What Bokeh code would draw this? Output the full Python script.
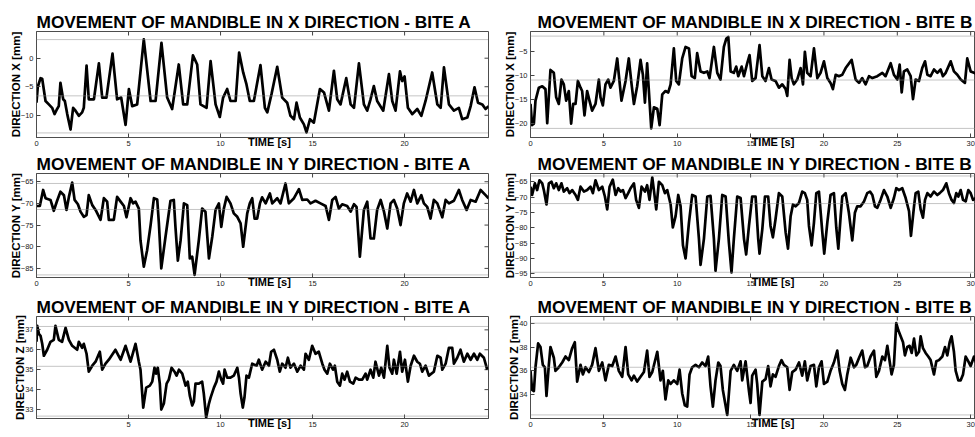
from bokeh.plotting import figure
from bokeh.models import Range1d, FixedTicker, Span, LinearAxis, CustomJSTickFormatter
from bokeh.layouts import column, row
from bokeh.embed import file_html
from bokeh.resources import INLINE

# ---------------- data ----------------
t_xa = [0.00,0.07,0.22,0.31,0.49,0.67,0.85,0.98,1.12,1.21,1.30,1.45,1.54,1.67,1.85,1.99,2.12,2.30,2.48,2.57,
        2.72,2.84,3.12,3.39,3.57,3.80,4.13,4.38,4.60,4.84,5.02,5.20,5.47,5.83,6.20,6.47,6.79,7.10,7.37,7.73,
        7.97,8.19,8.50,8.73,8.91,9.24,9.46,9.73,9.96,10.14,10.36,10.54,10.82,11.01,11.23,11.41,11.59,11.81,12.17,12.41,
        12.54,12.77,13.08,13.35,13.62,13.80,13.99,14.13,14.31,14.53,14.67,14.86,15.07,15.40,15.62,15.89,16.16,16.34,16.52,16.83,
        17.07,17.25,17.52,17.79,17.97,18.15,18.33,18.51,18.84,19.15,19.33,19.51,19.75,19.87,20.00,20.18,20.42,20.69,20.91,21.14,
        21.50,21.78,21.96,22.14,22.41,22.68,22.95,23.13,23.41,23.59,23.80,23.99,24.22,24.40,24.56]
v_xa = [-7.8,-5.0,-3.5,-3.6,-7.5,-8.1,-8.7,-9.8,-8.9,-8.4,-4.3,-7.2,-7.5,-9.8,-12.5,-8.7,-9.2,-10.1,-9.5,-8.7,
        -1.3,-7.2,-7.2,-0.9,-6.9,-6.9,0.8,-7.2,-6.9,-11.7,-5.4,-8.4,-8.1,3.3,-7.5,-7.5,2.7,-6.9,-8.9,-1.1,
        -8.1,-8.1,0.5,-1.1,-8.1,-8.7,-0.5,-8.1,-10.3,-6.9,-5.4,-7.5,-7.5,1.0,-2.5,-4.6,-7.5,-7.5,-1.2,-8.7,
        -9.5,-6.3,-1.5,-6.9,-7.8,-10.1,-10.7,-7.8,-10.4,-11.6,-13.0,-10.7,-11.3,-5.4,-6.0,-9.2,-2.2,-7.2,-8.1,-3.5,
        -8.1,-8.7,-0.9,-8.1,-9.2,-7.2,-4.9,-7.5,-9.2,-2.8,-7.5,-9.2,-2.3,-4.0,-3.2,-8.7,-9.8,-8.9,-10.1,-7.5,
        -2.5,-8.1,-8.7,-1.6,-8.1,-9.2,-8.7,-10.7,-10.4,-8.4,-5.1,-7.8,-8.1,-8.9,-8.4]

t_ya = [0.00,0.18,0.36,0.49,0.76,0.94,1.12,1.30,1.49,1.63,1.76,1.94,2.07,2.25,2.39,2.57,2.72,2.84,3.03,3.21,
        3.48,3.66,3.84,3.93,4.20,4.38,4.57,4.75,4.89,5.11,5.25,5.38,5.56,5.65,5.83,6.01,6.20,6.38,6.56,6.65,
        6.78,7.01,7.28,7.46,7.55,7.68,7.83,8.01,8.19,8.33,8.46,8.59,8.82,9.00,9.18,9.37,9.55,9.73,9.91,10.04,
        10.18,10.33,10.54,10.72,10.91,11.09,11.23,11.45,11.59,11.72,11.85,11.99,12.14,12.26,12.45,12.68,12.81,13.08,13.26,13.53,
        13.71,13.99,14.26,14.44,14.71,14.89,15.16,15.43,15.71,15.89,16.07,16.25,16.43,16.61,16.88,17.07,17.25,17.39,17.57,17.79,
        17.97,18.15,18.33,18.51,18.70,18.88,19.06,19.24,19.42,19.60,19.78,19.96,20.14,20.33,20.51,20.69,20.91,21.05,21.23,21.41,
        21.59,21.78,22.05,22.23,22.41,22.68,22.95,23.13,23.37,23.59,23.86,24.13,24.40,24.56]
v_ya = [-70.6,-70.6,-66.9,-68.8,-69.2,-71.7,-69.4,-67.3,-68.1,-71.5,-68.5,-65.2,-69.2,-70.2,-71.9,-73.1,-72.7,-68.1,-70.4,-71.5,
        -73.8,-68.8,-69.6,-73.8,-73.8,-68.5,-69.6,-70.6,-73.2,-68.8,-70.0,-69.6,-71.2,-78.5,-84.6,-80.8,-75.0,-68.8,-69.1,-74.6,
        -85.0,-77.7,-69.4,-69.2,-75.4,-83.2,-78.5,-70.0,-70.4,-82.7,-82.3,-86.5,-78.5,-71.2,-71.9,-82.7,-77.7,-71.5,-70.0,-75.4,
        -71.2,-68.5,-70.0,-72.3,-73.1,-74.6,-80.0,-72.3,-70.0,-68.8,-73.5,-73.5,-70.0,-68.6,-70.0,-67.7,-70.0,-68.8,-70.0,-65.4,
        -70.0,-68.8,-66.7,-69.2,-69.1,-70.0,-69.4,-70.0,-70.6,-73.8,-69.2,-68.5,-71.2,-70.2,-70.6,-71.9,-70.2,-70.8,-82.3,-71.5,
        -69.6,-78.1,-78.1,-71.5,-69.2,-71.9,-75.8,-70.0,-69.2,-71.2,-75.0,-70.0,-67.7,-69.6,-66.9,-70.0,-68.1,-70.0,-70.8,-73.5,
        -69.2,-70.0,-73.2,-69.2,-70.0,-69.4,-66.9,-69.2,-71.5,-69.2,-69.6,-66.9,-68.1,-68.8]

t_za = [0.00,0.04,0.13,0.22,0.31,0.40,0.58,0.76,0.94,1.03,1.21,1.39,1.58,1.76,1.94,2.21,2.30,2.48,2.57,2.72,
        2.84,3.03,3.21,3.44,3.57,3.75,3.93,4.29,4.57,4.84,5.11,5.38,5.56,5.65,5.80,5.96,6.16,6.29,6.41,6.50,
        6.59,6.70,6.78,6.92,7.07,7.19,7.34,7.50,7.61,7.74,7.92,8.10,8.22,8.33,8.46,8.55,8.64,8.82,9.00,9.09,
        9.22,9.37,9.46,9.64,9.78,9.91,10.04,10.14,10.22,10.36,10.54,10.72,10.91,11.00,11.09,11.21,11.30,11.41,11.54,11.72,
        11.96,12.08,12.26,12.45,12.63,12.75,12.90,13.08,13.22,13.35,13.53,13.66,13.80,13.99,14.17,14.35,14.53,14.62,14.80,14.98,
        15.16,15.34,15.53,15.65,15.80,15.94,16.11,16.21,16.34,16.49,16.61,16.74,16.88,17.03,17.21,17.34,17.52,17.70,17.88,17.97,
        18.15,18.30,18.42,18.61,18.73,18.88,19.06,19.18,19.33,19.42,19.57,19.75,19.87,20.02,20.18,20.33,20.51,20.69,20.83,20.96,
        21.14,21.32,21.59,21.78,21.96,22.05,22.23,22.41,22.59,22.68,22.86,23.04,23.22,23.41,23.59,23.77,23.95,24.09,24.31,24.49]
v_za = [36.4,37.2,36.8,36.7,36.3,35.7,36.0,36.4,36.5,37.2,36.5,36.4,37.1,36.5,36.2,36.0,36.4,36.1,36.3,35.8,
        34.9,35.2,35.4,35.9,35.0,35.3,35.5,36.0,35.5,36.2,35.4,36.3,35.4,35.0,33.1,34.1,34.2,34.4,35.1,34.8,
        35.1,34.3,33.0,33.3,34.3,34.5,35.1,34.9,34.7,35.0,34.8,34.2,34.4,33.7,33.2,33.4,34.3,34.3,34.4,33.8,
        32.6,33.3,33.6,34.1,34.4,34.9,34.5,34.3,35.0,34.6,34.6,34.7,35.1,34.6,33.8,33.1,33.6,34.7,34.6,35.3,
        35.2,35.5,35.0,35.4,35.2,35.9,36.0,35.5,34.9,35.3,35.1,35.6,35.1,35.3,34.9,35.2,35.0,35.8,35.5,36.2,
        35.8,35.9,35.3,35.0,34.8,35.3,35.0,35.2,34.4,34.2,34.8,34.5,34.9,34.4,34.3,34.6,34.5,34.5,34.8,34.5,
        35.0,34.6,35.4,34.7,35.1,34.6,36.2,35.1,34.8,35.5,34.8,35.9,34.9,35.5,34.4,35.2,35.7,35.4,35.3,34.9,
        35.2,34.7,34.9,35.7,35.6,35.0,35.3,36.1,36.1,35.3,35.6,36.0,35.4,35.8,35.5,35.8,35.5,35.8,35.6,35.0]

t_xb = [0.00,0.11,0.23,0.34,0.57,0.80,1.02,1.14,1.36,1.59,1.75,1.93,2.11,2.27,2.43,2.61,2.77,2.91,3.07,3.23,
        3.41,3.52,3.68,3.86,4.02,4.20,4.43,4.66,4.77,4.93,5.11,5.30,5.45,5.68,5.91,6.02,6.20,6.48,6.70,6.89,
        7.05,7.27,7.50,7.66,7.80,7.95,8.11,8.23,8.41,8.64,8.80,8.98,9.20,9.39,9.55,9.77,9.93,10.11,10.34,10.57,
        10.80,10.98,11.20,11.36,11.59,11.82,12.05,12.20,12.50,12.73,12.95,13.18,13.34,13.48,13.64,13.86,14.02,14.16,14.39,14.55,
        14.77,14.93,15.11,15.34,15.61,15.80,16.02,16.25,16.43,16.70,16.93,17.16,17.39,17.50,17.66,17.80,17.95,18.18,18.41,18.57,
        18.70,18.86,19.09,19.32,19.55,19.77,20.00,20.23,20.45,20.61,20.80,21.02,21.25,21.48,21.89,22.16,22.39,22.61,22.84,23.07,
        23.30,23.64,23.98,24.20,24.55,24.77,25.00,25.16,25.30,25.45,25.68,25.91,26.07,26.25,26.48,26.70,26.89,27.05,27.27,27.50,
        27.73,27.95,28.11,28.30,28.64,28.86,29.09,29.32,29.61,29.77,30.00,30.23,30.40]
v_xb = [-15.9,-20.3,-20.0,-15.2,-12.5,-12.2,-12.8,-19.9,-8.8,-9.4,-14.5,-15.9,-10.8,-11.8,-15.2,-13.2,-20.0,-15.9,-15.9,-11.1,
        -12.5,-13.2,-18.3,-13.2,-15.2,-17.3,-15.9,-10.8,-14.5,-16.2,-11.8,-10.8,-12.5,-11.1,-6.4,-9.8,-15.2,-11.1,-6.4,-11.8,
        -15.9,-12.2,-6.7,-9.8,-15.6,-7.4,-15.2,-21.0,-16.6,-16.9,-20.3,-13.9,-13.2,-13.5,-11.8,-4.3,-11.1,-11.8,-6.4,-4.0,
        -4.3,-10.1,-10.5,-5.3,-9.1,-9.4,-9.1,-10.5,-4.0,-9.4,-10.8,-4.0,-2.3,-1.9,-9.1,-9.4,-8.1,-10.1,-8.1,-10.1,
        -7.4,-5.7,-11.1,-10.5,-3.6,-10.1,-11.1,-8.4,-10.8,-11.1,-12.5,-11.8,-12.8,-14.2,-6.7,-10.5,-11.8,-10.8,-8.4,-11.8,
        -5.0,-9.4,-10.1,-4.3,-10.5,-9.4,-7.0,-10.5,-11.5,-12.8,-9.8,-10.1,-9.8,-8.4,-6.7,-10.8,-11.5,-10.5,-11.8,-10.1,
        -10.5,-10.1,-9.4,-10.1,-7.4,-9.8,-10.8,-7.7,-13.5,-9.1,-8.7,-10.1,-14.9,-10.8,-11.1,-8.4,-7.0,-9.8,-10.1,-8.7,
        -9.4,-8.7,-10.1,-9.4,-7.0,-9.1,-9.8,-10.8,-11.5,-6.4,-9.1,-9.4,-9.6]

t_yb = [0.00,0.11,0.30,0.45,0.61,0.80,0.91,1.09,1.25,1.43,1.59,1.75,1.93,2.11,2.27,2.50,2.66,2.84,3.07,3.23,
        3.41,3.64,3.86,4.09,4.25,4.43,4.66,4.89,5.07,5.23,5.39,5.61,5.80,5.98,6.14,6.30,6.48,6.66,6.82,7.05,
        7.20,7.39,7.57,7.80,7.95,8.11,8.30,8.41,8.57,8.75,8.98,9.16,9.32,9.55,9.70,9.89,10.07,10.23,10.39,10.57,
        10.80,11.02,11.25,11.48,11.59,11.82,12.05,12.27,12.50,12.61,12.84,13.07,13.30,13.52,13.70,13.86,14.09,14.32,14.55,14.70,
        14.89,15.11,15.34,15.52,15.61,15.80,15.98,16.20,16.36,16.52,16.70,16.93,17.16,17.39,17.55,17.73,17.89,18.07,18.30,18.52,
        18.70,18.86,18.98,19.16,19.32,19.48,19.66,19.89,20.02,20.23,20.45,20.68,20.84,20.98,21.14,21.25,21.48,21.70,21.93,22.11,
        22.27,22.50,22.73,22.95,23.14,23.30,23.48,23.64,23.86,24.09,24.32,24.55,24.77,24.93,25.11,25.34,25.57,25.80,25.93,26.14,
        26.25,26.43,26.59,26.75,26.89,27.05,27.27,27.50,27.73,27.89,28.11,28.34,28.52,28.70,28.86,29.02,29.16,29.32,29.48,29.66,
        29.84,30.00,30.16,30.40]
v_yb = [-66.6,-69.3,-65.5,-67.7,-64.5,-65.5,-67.7,-72.4,-65.5,-65.0,-67.1,-65.5,-67.7,-65.5,-68.2,-67.1,-68.7,-67.7,-69.3,-70.9,
        -66.6,-68.2,-67.7,-66.6,-68.7,-64.5,-67.7,-66.6,-69.8,-74.0,-66.6,-64.3,-69.3,-67.1,-68.2,-67.7,-70.3,-68.7,-67.1,-65.5,
        -70.9,-73.5,-66.6,-68.2,-66.1,-70.9,-63.6,-67.7,-74.0,-65.0,-66.1,-68.7,-67.7,-72.4,-79.9,-76.2,-69.3,-73.0,-85.7,-90.0,
        -78.3,-69.3,-69.8,-83.6,-92.1,-83.6,-69.8,-69.6,-83.6,-94.0,-83.6,-69.3,-69.8,-84.7,-94.5,-83.6,-69.8,-70.3,-83.6,-88.7,
        -79.4,-69.8,-69.8,-83.6,-88.4,-80.4,-69.8,-69.8,-79.4,-83.1,-77.2,-68.7,-69.8,-81.5,-86.8,-76.2,-72.4,-73.0,-71.9,-68.2,
        -68.7,-70.9,-79.4,-85.7,-78.3,-68.7,-68.2,-81.5,-88.4,-78.3,-69.3,-68.7,-79.9,-86.8,-76.2,-69.8,-68.7,-75.1,-84.1,-75.1,
        -73.0,-73.0,-71.4,-68.7,-68.2,-69.3,-73.0,-73.5,-70.9,-67.7,-69.8,-73.5,-70.3,-67.1,-67.7,-67.1,-70.3,-74.6,-82.6,-73.0,
        -68.7,-68.2,-74.0,-76.7,-70.9,-68.7,-69.8,-68.2,-69.3,-68.7,-67.7,-65.5,-68.7,-70.9,-71.9,-68.7,-69.8,-67.7,-70.9,-71.4,
        -67.7,-68.7,-70.9,-70.2]

t_zb = [0.00,0.11,0.23,0.34,0.52,0.68,0.84,0.98,1.09,1.25,1.36,1.59,1.70,1.93,2.16,2.39,2.61,2.84,3.02,3.18,
        3.41,3.57,3.75,3.98,4.20,4.43,4.66,4.89,5.11,5.34,5.57,5.80,6.02,6.25,6.48,6.66,6.89,7.05,7.27,7.50,
        7.73,7.95,8.11,8.30,8.64,8.86,9.02,9.20,9.39,9.55,9.77,10.00,10.16,10.34,10.52,10.68,10.84,11.02,11.25,11.48,
        11.70,11.93,12.11,12.27,12.43,12.61,12.80,12.95,13.11,13.41,13.64,13.86,14.09,14.32,14.43,14.66,14.89,15.00,15.11,15.34,
        15.45,15.61,15.80,16.02,16.20,16.36,16.52,16.70,16.93,17.11,17.27,17.50,17.66,17.84,18.07,18.30,18.52,18.70,18.86,19.09,
        19.32,19.48,19.66,19.84,20.00,20.23,20.45,20.68,20.91,21.07,21.25,21.43,21.59,21.82,22.05,22.20,22.43,22.61,22.80,22.95,
        23.18,23.41,23.57,23.75,23.98,24.16,24.32,24.43,24.61,24.77,24.93,25.07,25.23,25.39,25.52,25.68,25.84,25.98,26.14,26.30,
        26.48,26.59,26.75,26.93,27.11,27.27,27.50,27.66,27.84,28.07,28.25,28.41,28.57,28.70,28.86,28.98,29.16,29.32,29.48,29.66,
        29.84,30.00,30.23,30.40]
v_zb = [36.0,34.4,34.3,36.3,38.3,38.0,36.5,36.3,33.9,36.5,38.0,37.1,36.0,36.3,36.7,37.2,36.9,37.9,38.4,35.1,
        36.5,35.7,36.3,35.9,36.5,37.9,36.0,36.7,35.2,36.5,36.4,37.2,36.0,35.5,38.0,35.7,35.2,35.6,35.1,35.5,
        35.9,37.7,35.5,35.9,37.6,35.2,36.0,33.6,35.2,34.9,35.2,34.9,36.1,34.1,33.1,33.0,35.7,36.3,36.5,36.3,
        36.7,36.4,37.2,34.7,33.0,35.2,36.7,36.4,34.4,32.3,36.0,36.5,36.0,36.8,35.2,36.8,34.3,33.3,35.6,36.1,
        34.9,32.3,35.1,35.3,36.4,34.7,35.7,35.5,36.4,36.9,36.5,36.3,34.4,35.9,36.1,36.7,35.6,36.8,35.2,36.4,
        36.5,34.7,36.3,36.8,34.9,35.1,36.0,36.7,37.7,36.0,34.9,34.4,35.7,37.1,36.3,36.5,37.2,37.7,36.3,36.4,
        37.2,37.7,35.5,36.0,37.2,36.9,38.1,37.2,35.7,36.5,40.0,39.4,38.9,38.4,37.3,38.0,38.1,37.5,38.7,37.3,
        37.6,38.9,37.9,37.5,37.2,36.9,35.7,36.8,36.9,37.2,38.0,37.3,38.4,38.9,37.6,36.0,35.2,35.2,35.7,37.2,
        36.8,36.4,37.2,36.6]

# dotted reference levels (max, mean, min)
ref_xa = [3.26, -6.6, -13.1]
ref_ya = [-65.4, -71.4, -86.5]
ref_za = [37.17, 35.17, 32.67]
ref_xb = [-1.73, -10.9, -21.0]
ref_yb = [-63.1, -72.1, -94.5]
ref_zb = [40.0, 36.3, 32.3]

# tick labels
xt_a = [0, 5, 10, 15, 20]
xt_a_bottom = [5, 10, 15, 20]
xt_b = [0, 5, 10, 15, 20, 25, 30]
yt_xa = [-10, -5, 0]
yt_ya = [-85, -80, -75, -70, -65]
yt_za = [33, 34, 35, 36, 37]
yt_xb = [-20, -15, -10, -5]
yt_yb = [-95, -90, -85, -80, -75, -70, -65]
yt_zb = [34, 36, 38, 40]

# axis extents
xr_a = (0, 24.56)
xr_b = (0, 30.33)
yr_xa = (-13.9, 4.68)
yr_ya = (-87.1, -63.1)
yr_za = (32.55, 37.67)
yr_xb = (-22.9, -0.77)
yr_yb = (-96.2, -62.3)
yr_zb = (32.0, 40.56)

titles_a = ["MOVEMENT OF MANDIBLE IN X DIRECTION - BITE A",
            "MOVEMENT OF MANDIBLE IN Y DIRECTION - BITE A",
            "MOVEMENT OF MANDIBLE IN Y DIRECTION - BITE A"]
titles_b = ["MOVEMENT OF MANDIBLE IN X DIRECTION - BITE B",
            "MOVEMENT OF MANDIBLE IN Y DIRECTION - BITE B",
            "MOVEMENT OF MANDIBLE IN Y DIRECTION - BITE B"]
ylabels = ["DIRECTION X [mm]", "DIRECTION Y [mm]", "DIRECTION Z [mm]"]
time_label = "TIME [s]"
time_x_a = 12.66
time_x_b = 16.53

FONT = "Liberation Sans"

COL_W = [489, 486]
COL_LEFT = [36, 41]
COL_RIGHT = [1, 0]
COL_TOFF = [0, 7]
ROW_H = [151, 143, 143]
ROW_TOP = [31, 22, 22]
ROW_BOT = [14, 17, 19]


def panel(t, v, title, ylabel, xr, yr, xt, yt, refs, col, r, time_x):
    w, h = COL_W[col], ROW_H[r]
    p = figure(width=w, height=h, x_range=Range1d(*xr), y_range=Range1d(*yr),
               output_backend="svg", toolbar_location=None,
               min_border_left=COL_LEFT[col], min_border_right=COL_RIGHT[col],
               min_border_top=ROW_TOP[r], min_border_bottom=ROW_BOT[r])
    p.background_fill_color = "white"
    p.border_fill_color = "white"
    p.outline_line_color = "#4d4d4d"
    p.outline_line_width = 1
    p.xgrid.grid_line_color = None
    p.ygrid.grid_line_color = None

    p.title.text = title
    p.title.text_font = FONT
    p.title.text_font_style = "bold"
    p.title.text_font_size = "17.3px"
    p.title.text_color = "black"
    p.title.align = "left"
    p.title.offset = COL_TOFF[col]
    p.title.standoff = 0

    xax = p.below[0]
    yax = p.left[0]
    for ax, ticks in ((xax, xt), (yax, yt)):
        ax.ticker = FixedTicker(ticks=ticks)
        ax.major_tick_in = 4
        ax.major_tick_out = 0
        ax.minor_tick_line_color = None
        ax.major_tick_line_color = "#444444"
        ax.axis_line_color = "#4d4d4d"
        ax.major_label_text_font = FONT
        ax.major_label_text_font_size = "7.5px"
        ax.major_label_text_color = "#222222"
        ax.major_label_standoff = 3
    yax.axis_label = ylabel
    yax.axis_label_text_font = FONT
    yax.axis_label_text_font_style = "bold"
    yax.axis_label_text_font_size = "11.5px"
    yax.axis_label_text_color = "black"
    yax.axis_label_standoff = -4

    # "TIME [s]" written by a second x axis that sits on the tick label row
    time_ax = LinearAxis(ticker=FixedTicker(ticks=[time_x]),
                         formatter=CustomJSTickFormatter(code="return 'TIME [s]';"))
    time_ax.axis_line_color = None
    time_ax.major_tick_line_color = None
    time_ax.minor_tick_line_color = None
    time_ax.major_tick_in = 0
    time_ax.major_tick_out = 0
    time_ax.major_label_text_font = FONT
    time_ax.major_label_text_font_style = "bold"
    time_ax.major_label_text_font_size = "11px"
    time_ax.major_label_text_color = "black"
    time_ax.major_label_standoff = -13
    p.add_layout(time_ax, "below")

    for lvl in refs:
        p.add_layout(Span(location=lvl, dimension="width", line_color="#8a8a8a",
                          line_width=1, line_dash="1 1"))

    # inward tick marks on the top edge (and right edge for the left column)
    frame_w = w - COL_LEFT[col] - COL_RIGHT[col]
    frame_h = h - ROW_TOP[r] - ROW_BOT[r]
    dy = (yr[1] - yr[0]) * 4.0 / frame_h
    p.segment(x0=xt, x1=xt, y0=[yr[1]] * len(xt), y1=[yr[1] - dy] * len(xt),
              line_color="#444444", line_width=1)
    if col == 0:
        dx = (xr[1] - xr[0]) * 4.0 / frame_w
        p.segment(x0=[xr[1]] * len(yt), x1=[xr[1] - dx] * len(yt), y0=yt, y1=yt,
                  line_color="#444444", line_width=1)

    p.line(t, v, line_color="black", line_width=2.7, line_join="round")
    return p


pa = [panel(t_xa, v_xa, titles_a[0], ylabels[0], xr_a, yr_xa, xt_a, yt_xa, ref_xa, 0, 0, time_x_a),
      panel(t_ya, v_ya, titles_a[1], ylabels[1], xr_a, yr_ya, xt_a, yt_ya, ref_ya, 0, 1, time_x_a),
      panel(t_za, v_za, titles_a[2], ylabels[2], xr_a, yr_za, xt_a_bottom, yt_za, ref_za, 0, 2, time_x_a)]
pb = [panel(t_xb, v_xb, titles_b[0], ylabels[0], xr_b, yr_xb, xt_b, yt_xb, ref_xb, 1, 0, time_x_b),
      panel(t_yb, v_yb, titles_b[1], ylabels[1], xr_b, yr_yb, xt_b, yt_yb, ref_yb, 1, 1, time_x_b),
      panel(t_zb, v_zb, titles_b[2], ylabels[2], xr_b, yr_zb, xt_b, yt_zb, ref_zb, 1, 2, time_x_b)]

layout = column(row(pa[0], pb[0]), row(pa[1], pb[1]), row(pa[2], pb[2]))

open("out.html", "w").write(file_html(layout, INLINE))
